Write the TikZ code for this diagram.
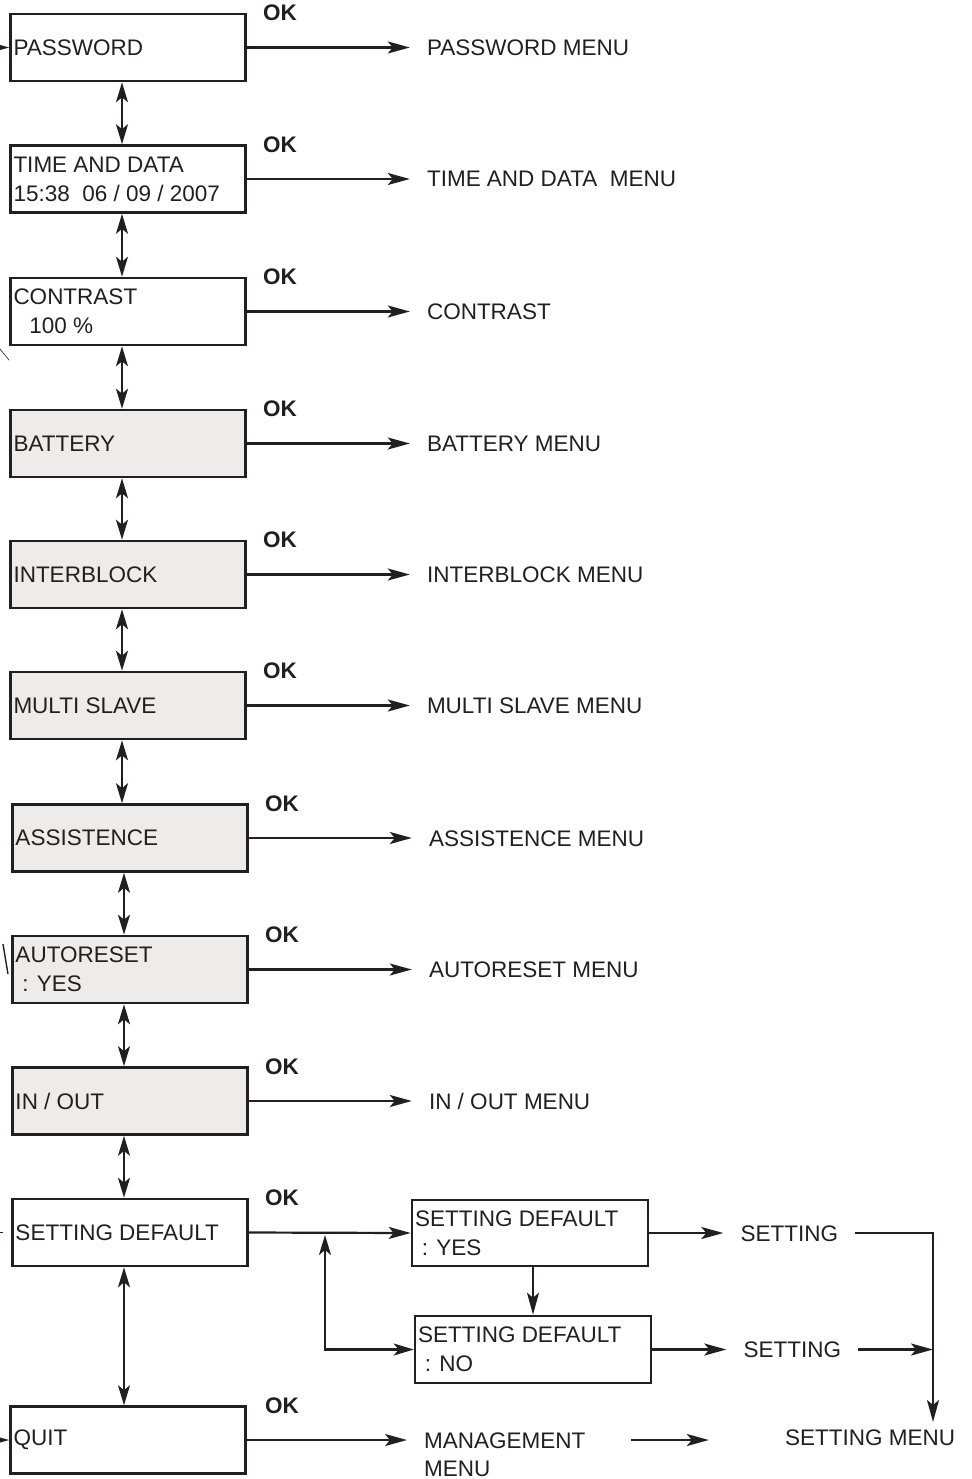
\documentclass[tikz,border=0pt]{standalone}
\usepackage{fontspec}
\setmainfont{Liberation Sans}
\usepackage{tikz}
\usetikzlibrary{positioning, arrows.meta}
\definecolor{mInk}{HTML}{231F20}
\definecolor{mFill}{HTML}{EDECEA}

\tikzset{
  menubox/.style={draw=mInk, line width=2.6pt, minimum width=235pt, minimum height=67pt,
    text width=229pt, inner xsep=3pt, align=left, text=mInk,
    font=\fontsize{22.5}{29}\selectfont,
    execute at begin node={\spaceskip=0pt\xspaceskip=0pt\relax}},
  oklabel/.style={inner sep=0pt, text height=16pt, text depth=0pt, text=mInk,
    font=\fontsize{22.5}{29}\selectfont\bfseries},
  menulabel/.style={inner xsep=17pt, inner ysep=0pt, text height=16pt, text depth=0pt,
    text=mInk, font=\fontsize{22.5}{29}\selectfont},
  link/.style={draw=mInk, line width=2.2pt, -{Stealth[length=22pt,width=12pt,inset=5pt]}},
  dlink/.style={draw=mInk, line width=2.2pt,
    {Stealth[length=20pt,width=12pt,inset=5pt]}-{Stealth[length=20pt,width=12pt,inset=5pt]}}
}

\begin{document}
\begin{tikzpicture}[x=1pt, y=-1pt]
  \useasboundingbox (0,0) rectangle (971,1479);

  % main menu column
  \foreach \i/\x/\y/\fc/\txt/\menu in {
    1/128/47.5/white/PASSWORD/PASSWORD MENU,
    2/128/179/white/{TIME AND DATA\\15:38\ \ 06 / 09 / 2007}/{TIME AND DATA\ \ MENU},
    3/128/311.5/white/{CONTRAST\\\hspace*{0.7em}100 \%}/CONTRAST,
    4/128/443.5/mFill/BATTERY/BATTERY MENU,
    5/128/574.5/mFill/INTERBLOCK/INTERBLOCK MENU,
    6/128/705.5/mFill/MULTI SLAVE/MULTI SLAVE MENU,
    7/130/838/mFill/ASSISTENCE/ASSISTENCE MENU,
    8/130/969.5/mFill/{AUTORESET\\\hspace*{0.3em}: YES}/AUTORESET MENU,
    9/130/1101/mFill/{IN / OUT}/{IN / OUT MENU}}
  {
    \node[menubox, fill=\fc] (m\i) at (\x,\y) {\txt};
    \node[oklabel, right=16pt of m\i.north east] (ok\i) {OK};
    \node[menulabel, right=163pt of m\i.east] (r\i) {\menu};
    \draw[link] (m\i.east) -- (r\i.west);
  }

  \node[menubox, fill=white] (m10) at (130,1232.5) {SETTING DEFAULT};
  \node[oklabel, right=16pt of m10.north east] (ok10) {OK};
  \node[menubox, fill=white] (m11) at (128,1440) {QUIT};
  \node[oklabel, right=18pt of m11.north east] (ok11) {OK};

  \foreach \i/\j in {1/2,2/3,3/4,4/5,5/6,6/7,7/8,8/9,9/10,10/11}
    {\draw[dlink] ([xshift=-6pt]m\i.south) -- ([xshift=-6pt]m\i.south |- m\j.north);}

  % setting default branch
  \node[menubox, fill=white, minimum width=236pt, minimum height=66pt, text width=230pt]
    (sy) at (530,1233) {SETTING DEFAULT\\\hspace*{0.3em}: YES};
  \node[menubox, fill=white, minimum width=236pt, text width=230pt]
    (sn) at (533,1349.5) {SETTING DEFAULT\\\hspace*{0.3em}: NO};
  \coordinate (jn) at (325,1233);
  \draw[link] (m10.east) -- (sy.west);
  \draw[link] (sy.south -| sn.north) -- (sn.north);
  \draw[dlink, shorten <=2pt] (jn) |- (sn.west);

  \node[menulabel, right=74pt of sy.east] (s1) {SETTING};
  \node[menulabel, right=74pt of sn.east] (s2) {SETTING};
  \node[menulabel] (sm) at (870,1437) {SETTING MENU};
  \coordinate (smin) at (933,1422);
  \draw[link] (sy.east) -- (s1.west);
  \draw[link] (sn.east) -- (s2.west);
  \draw[link] (s1.east) -| (smin);
  \draw[link] (s2.east) -- (s2.east -| smin);

  % quit
  \node[menulabel, align=left, anchor=base west, font=\fontsize{22.5}{28}\selectfont]
    (r11) at (407,1476) {MANAGEMENT\\MENU};
  \draw[link] (m11.east) -- (m11.east -| r11.west);
  \draw[link, shorten <=28pt, shorten >=59pt] (r11.east |- m11.east) -- (sm.west |- m11.east);

  % cut-off stubs at the left edge
  \coordinate (in1) at (-14,47.5);
  \coordinate (in3) at (0,349);
  \coordinate (in8) at (3,944);
  \coordinate (in10) at (-3,1232.5);
  \coordinate (in11) at (-14,1440);
  \draw[link] (in1) -- (m1.west);
  \draw[mInk, line width=0.6pt] (in3) -- ([yshift=-14pt]m3.south west);
  \draw[mInk, line width=1.4pt] (in8) -- (8,974);
  \draw[mInk, line width=0.8pt] (in10) -- (3,1232.5);
  \draw[link] (in11) -- (m11.west);
\end{tikzpicture}
\end{document}
